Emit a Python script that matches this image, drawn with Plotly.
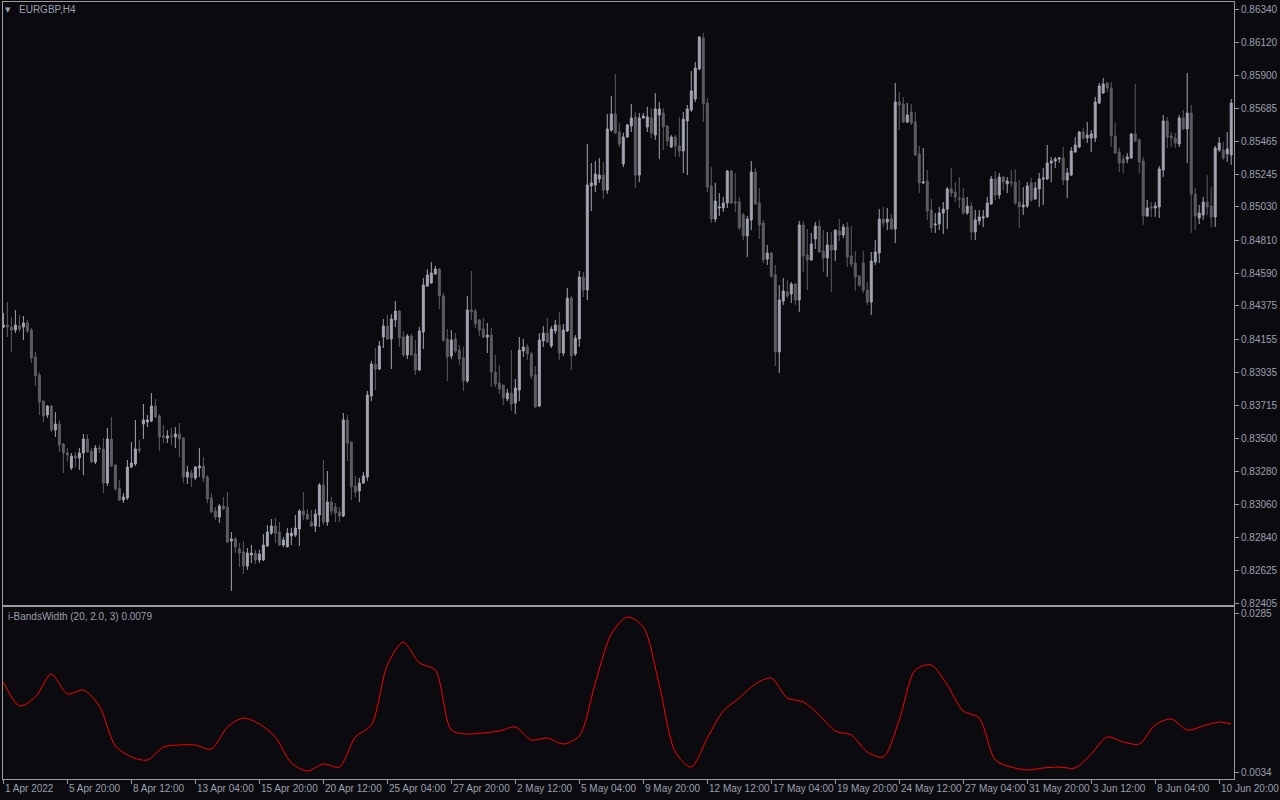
import plotly.graph_objects as go

# EURGBP H4 candles, prices in points (1 point = 0.00001)
open_pts = [
    84235, 84248, 84235, 84215, 84242, 84235, 84262, 84215, 84037, 83918,
    83745, 83653, 83712, 83553, 83593, 83461, 83401, 83302, 83381, 83368,
    83401, 83494, 83414, 83342, 83434, 83428, 83202, 83494, 83322, 83169,
    83090, 83103, 83308, 83328, 83428, 83593, 83606, 83613, 83712, 83646,
    83514, 83500, 83514, 83507, 83527, 83500, 83242, 83269, 83236, 83302,
    83315, 83242, 83103, 83017, 82977, 83050, 83044, 82819, 82832, 82766,
    82746, 82653, 82726, 82739, 82693, 82693, 82786, 82871, 82918, 82878,
    82792, 82779, 82852, 82858, 82898, 83017, 82997, 82944, 82918, 82991,
    83189, 82944, 83077, 83044, 83011, 82984, 83620, 83474, 83183, 83150,
    83202, 83242, 83779, 83990, 83957, 84169, 84242, 84156, 84282, 84341,
    84169, 84050, 84176, 84057, 83951, 84202, 84507, 84527, 84586, 84619,
    84441, 84156, 84043, 84156, 84083, 84030, 83878, 84348, 84341, 84282,
    84222, 84169, 84182, 83937, 83865, 83851, 83759, 83798, 83732, 83818,
    84076, 84103, 84057, 83918, 83712, 84143, 84195, 84110, 84209, 84249,
    84063, 84209, 84427, 84057, 84156, 84566, 84480, 85169, 85175, 85215,
    85241, 85142, 85539, 85645, 85526, 85314, 85493, 85566, 85626, 85241,
    85619, 85559, 85619, 85506, 85639, 85652, 85566, 85427, 85493, 85434,
    85400, 85599, 85672, 85745, 85943, 86148, 85718, 85169, 84950, 85023,
    85023, 85056, 85268, 85063, 85063, 84977, 84838, 84944, 85261, 85056,
    84924, 84685, 84725, 84580, 84070, 84407, 84467, 84454, 84520, 84414,
    84911, 84712, 84679, 84818, 84904, 84738, 84692, 84778, 84745, 84871,
    84844, 84897, 84705, 84659, 84573, 84659, 84480, 84401, 84666, 84725,
    84950, 84930, 84950, 84884, 85725, 85712, 85592, 85659, 85592, 85381,
    85189, 85202, 85010, 84911, 84917, 84990, 85016, 85149, 85129, 85089,
    85089, 84990, 85036, 84864, 84937, 84957, 84964, 85050, 85215, 85109,
    85228, 85182, 85195, 85195, 85063, 85030, 85036, 85189, 85083, 85149,
    85215, 85215, 85321, 85334, 85347, 85354, 85208, 85241, 85394, 85427,
    85526, 85486, 85486, 85486, 85718, 85784, 85851, 85817, 85500, 85394,
    85347, 85347, 85354, 85513, 85473, 85334, 84970, 85030, 85023, 85030,
    85275, 85599, 85500, 85486, 85447, 85619, 85546, 85652, 85116, 84957,
    84977, 85063, 85036, 84964, 85407, 85407, 85381, 85374,
]

high_pts = [
    84328, 84401, 84301, 84348, 84315, 84308, 84282, 84229, 84070, 83937,
    83745, 83719, 83719, 83673, 83620, 83467, 83434, 83401, 83408, 83434,
    83527, 83527, 83434, 83454, 83454, 83500, 83567, 83640, 83322, 83222,
    83136, 83355, 83474, 83620, 83487, 83726, 83653, 83798, 83759, 83659,
    83587, 83553, 83567, 83573, 83600, 83507, 83315, 83289, 83315, 83434,
    83375, 83255, 83136, 83044, 83063, 83110, 83143, 82878, 82845, 82805,
    82819, 82772, 82792, 82759, 82759, 82865, 82924, 82964, 82971, 82944,
    82845, 82905, 82905, 82991, 83030, 83143, 83030, 83024, 83030, 83202,
    83355, 83282, 83110, 83070, 83044, 83666, 83653, 83474, 83249, 83236,
    83275, 83812, 84010, 84096, 84143, 84288, 84315, 84321, 84407, 84348,
    84209, 84189, 84189, 84149, 84235, 84560, 84619, 84666, 84639, 84626,
    84460, 84222, 84215, 84195, 84116, 84103, 84441, 84606, 84354, 84288,
    84295, 84262, 84229, 84050, 83984, 83851, 83825, 84083, 83891, 84169,
    84156, 84123, 84070, 83977, 84195, 84242, 84295, 84242, 84282, 84335,
    84255, 84493, 84441, 84182, 84606, 84599, 85447, 85321, 85334, 85354,
    85328, 85645, 85765, 85910, 85586, 85520, 85579, 85712, 85659, 85652,
    85652, 85692, 85685, 85784, 85725, 85685, 85573, 85506, 85506, 85626,
    85659, 85705, 85930, 85990, 86160, 86182, 85751, 85294, 85189, 85122,
    85096, 85275, 85275, 85255, 85096, 84990, 84970, 85334, 85288, 85155,
    84944, 84778, 84732, 84646, 84513, 84560, 84546, 84533, 84527, 84937,
    84937, 84884, 84858, 84930, 84944, 84877, 84864, 84864, 84880, 84950,
    84917, 84930, 84904, 84738, 84580, 84738, 84533, 84732, 84811, 85016,
    85030, 85023, 84983, 85851, 85791, 85758, 85718, 85712, 85659, 85434,
    85420, 85275, 85083, 84990, 85030, 85063, 85162, 85288, 85195, 85228,
    85155, 85096, 85063, 85010, 85010, 85010, 85096, 85235, 85268, 85255,
    85235, 85228, 85275, 85281, 85208, 85162, 85195, 85222, 85195, 85255,
    85288, 85440, 85361, 85361, 85361, 85427, 85288, 85427, 85493, 85533,
    85553, 85592, 85539, 85758, 85851, 85884, 85855, 85857, 85586, 85420,
    85374, 85387, 85520, 85844, 85486, 85361, 85076, 85063, 85063, 85301,
    85639, 85626, 85526, 85520, 85639, 85672, 85917, 85705, 85155, 85043,
    85096, 85241, 85162, 85434, 85493, 85460, 85526, 85745,
]

low_pts = [
    84229, 84169, 84070, 84195, 84202, 84149, 84195, 83997, 83845, 83653,
    83606, 83633, 83540, 83507, 83408, 83269, 83342, 83289, 83308, 83289,
    83255, 83401, 83335, 83328, 83401, 83136, 83183, 83308, 83150, 83083,
    83070, 83090, 83302, 83315, 83401, 83494, 83573, 83606, 83633, 83414,
    83467, 83467, 83454, 83434, 83375, 83202, 83196, 83176, 83222, 83242,
    83209, 83070, 83004, 82958, 82938, 83024, 82805, 82488, 82739, 82647,
    82600, 82627, 82673, 82666, 82673, 82686, 82779, 82858, 82805, 82786,
    82779, 82779, 82792, 82845, 82786, 82958, 82958, 82911, 82878, 82911,
    82924, 82918, 82991, 82944, 82944, 82977, 83348, 83090, 83110, 83077,
    83196, 83216, 83745, 83818, 83951, 84096, 84150, 83957, 84235, 84103,
    84037, 84023, 84043, 83918, 83944, 84090, 84500, 84520, 84580, 84354,
    84136, 83878, 84023, 84063, 83984, 83812, 83865, 84282, 84229, 84176,
    84162, 84063, 83838, 83838, 83792, 83719, 83745, 83679, 83659, 83745,
    84037, 84017, 83891, 83700, 83705, 84103, 84130, 84096, 84189, 84017,
    84043, 84202, 83951, 84043, 84103, 84434, 84414, 85003, 85129, 85189,
    85083, 85116, 85526, 85513, 85427, 85294, 85486, 85526, 85155, 85195,
    85612, 85526, 85486, 85473, 85347, 85407, 85434, 85420, 85361, 85361,
    85255, 85241, 85659, 85725, 85937, 85593, 85129, 84924, 84930, 84970,
    84997, 85023, 85050, 84997, 84877, 84811, 84699, 84877, 85043, 84818,
    84659, 84646, 84560, 83977, 83931, 84381, 84427, 84394, 84381, 84335,
    84599, 84480, 84675, 84752, 84725, 84599, 84566, 84467, 84672, 84805,
    84824, 84632, 84632, 84474, 84500, 84460, 84381, 84315, 84646, 84659,
    84897, 84877, 84877, 84791, 85539, 85586, 85586, 85573, 85367, 85122,
    85182, 84944, 84858, 84858, 84877, 84851, 84884, 85096, 85063, 85023,
    84977, 84977, 84811, 84811, 84911, 84897, 84957, 85043, 85076, 85083,
    85142, 85122, 85162, 85043, 84891, 84977, 85023, 85063, 85076, 85030,
    85043, 85208, 85195, 85288, 85321, 85175, 85089, 85235, 85387, 85420,
    85473, 85453, 85394, 85460, 85710, 85780, 85791, 85427, 85380, 85261,
    85255, 85321, 85350, 85460, 85255, 84911, 84964, 84964, 84964, 84957,
    85228, 85420, 85427, 85420, 85427, 85539, 85321, 84858, 84877, 84917,
    84944, 84977, 84897, 84897, 85394, 85341, 85328, 85308,
]

close_pts = [
    84248, 84235, 84215, 84248, 84222, 84262, 84209, 84030, 83911, 83739,
    83646, 83712, 83553, 83593, 83454, 83401, 83388, 83381, 83368, 83401,
    83494, 83408, 83342, 83434, 83428, 83202, 83494, 83315, 83163, 83090,
    83110, 83308, 83335, 83428, 83421, 83620, 83620, 83712, 83640, 83507,
    83507, 83514, 83510, 83527, 83494, 83242, 83275, 83236, 83308, 83315,
    83236, 83097, 83011, 82977, 83050, 83030, 82812, 82832, 82779, 82739,
    82653, 82739, 82739, 82693, 82732, 82792, 82878, 82918, 82871, 82792,
    82825, 82871, 82871, 82905, 83017, 82991, 82964, 82918, 82997, 83189,
    82944, 83077, 83017, 83004, 82984, 83620, 83467, 83176, 83143, 83202,
    83249, 83785, 83990, 83957, 84110, 84242, 84156, 84288, 84341, 84162,
    84050, 84176, 84050, 83951, 84209, 84513, 84580, 84593, 84619, 84441,
    84149, 84037, 84149, 84076, 84023, 83878, 84348, 84335, 84255, 84215,
    84169, 84182, 83937, 83858, 83825, 83765, 83798, 83726, 83831, 84083,
    84103, 84057, 83911, 83706, 84149, 84195, 84136, 84222, 84249, 84063,
    84215, 84427, 84043, 84162, 84566, 84480, 85175, 85189, 85248, 85241,
    85142, 85546, 85645, 85520, 85447, 85493, 85573, 85619, 85241, 85619,
    85632, 85626, 85520, 85678, 85678, 85559, 85467, 85493, 85434, 85400,
    85612, 85678, 85798, 85950, 86155, 85712, 85162, 84950, 85069, 85030,
    85056, 85268, 85056, 85056, 84891, 84838, 84950, 85261, 85050, 84911,
    84679, 84725, 84573, 84070, 84414, 84474, 84441, 84520, 84414, 84911,
    84705, 84679, 84785, 84904, 84732, 84692, 84778, 84745, 84877, 84844,
    84897, 84699, 84652, 84566, 84513, 84480, 84401, 84672, 84732, 84950,
    84924, 84950, 84884, 85725, 85705, 85592, 85639, 85586, 85374, 85189,
    85195, 85003, 84891, 84917, 84990, 85016, 85149, 85122, 85096, 85083,
    84990, 85036, 84864, 84944, 84964, 84964, 85056, 85215, 85109, 85228,
    85195, 85202, 85189, 85056, 85030, 85043, 85169, 85076, 85155, 85215,
    85222, 85321, 85334, 85347, 85354, 85208, 85255, 85400, 85440, 85526,
    85486, 85506, 85513, 85725, 85831, 85844, 85817, 85500, 85387, 85321,
    85321, 85361, 85513, 85467, 85328, 84970, 85023, 85023, 85036, 85281,
    85599, 85493, 85486, 85453, 85619, 85546, 85652, 85116, 84970, 84990,
    85063, 85030, 84964, 85420, 85453, 85354, 85414, 85718,
]

# Bollinger band width indicator, read every 4th bar (plus the last bar)
bandwidth = [
    0.01770, 0.01388, 0.01531, 0.01897, 0.01579, 0.01643, 0.01388, 0.00753, 0.00578, 0.00531,
    0.00737, 0.00769, 0.00769, 0.00705, 0.01055, 0.01198, 0.01103, 0.00896, 0.00483, 0.00356,
    0.00467, 0.00419, 0.00896, 0.01087, 0.02040, 0.02405, 0.02072, 0.01960, 0.01007, 0.00944,
    0.00960, 0.00991, 0.01055, 0.00848, 0.00880, 0.00785, 0.00912, 0.01754, 0.02532, 0.02802,
    0.02644, 0.01722, 0.00658, 0.00419, 0.00880, 0.01309, 0.01516, 0.01738, 0.01833, 0.01516,
    0.01452, 0.01246, 0.00991, 0.00928, 0.00658, 0.00578, 0.01166, 0.01960, 0.02040, 0.01722,
    0.01309, 0.01198, 0.00531, 0.00419, 0.00372, 0.00404, 0.00419, 0.00404, 0.00626, 0.00896,
    0.00817, 0.00785, 0.01087, 0.01182, 0.01007, 0.01071, 0.01134, 0.01103,
]

time_labels = ["1 Apr 2022", "5 Apr 20:00", "8 Apr 12:00", "13 Apr 04:00", "15 Apr 20:00",
               "20 Apr 12:00", "25 Apr 04:00", "27 Apr 20:00", "2 May 12:00", "5 May 04:00",
               "9 May 20:00", "12 May 12:00", "17 May 04:00", "19 May 20:00", "24 May 12:00",
               "27 May 04:00", "31 May 20:00", "3 Jun 12:00", "8 Jun 04:00", "10 Jun 20:00"]
label_every = 16  # bars between time labels

price_ticks = [0.86340, 0.86120, 0.85900, 0.85685, 0.85465, 0.85245, 0.85030, 0.84810,
               0.84590, 0.84375, 0.84155, 0.83935, 0.83715, 0.83500, 0.83280, 0.83060,
               0.82840, 0.82625, 0.82405]
bw_ticks = [0.0285, 0.0034]

n = len(close_pts)
assert len(open_pts) == n and len(high_pts) == n and len(low_pts) == n, (len(open_pts), len(high_pts), len(low_pts), n)

o = [v / 1e5 for v in open_pts]
h = [v / 1e5 for v in high_pts]
l = [v / 1e5 for v in low_pts]
c = [v / 1e5 for v in close_pts]
bars = list(range(n))
bw_bars = list(range(0, n - 3, 4)) + [n - 1]
assert len(bw_bars) == len(bandwidth), (len(bw_bars), len(bandwidth))
label_bars = [i * label_every for i in range(len(time_labels))]

BG = "#0a0a0f"
FRAME = "#9b9b9b"
TXT = "#9aa0ae"
BULL = "#a3a4b2"
BEAR = "#5d5d62"
FONT = "Liberation Sans, Arial, sans-serif"

W, H = 1280, 800
x0p, x1p = 3, 1234
main_top, main_bot = 2, 605
ind_top, ind_bot = 607, 779

def ypaper(px):
    return (H - px) / H

fig = go.Figure()
fig.add_trace(go.Candlestick(
    x=bars, open=o, high=h, low=l, close=c,
    xaxis="x", yaxis="y",
    increasing=dict(line=dict(color=BULL, width=1), fillcolor=BULL),
    decreasing=dict(line=dict(color=BEAR, width=1), fillcolor=BEAR),
    whiskerwidth=0, showlegend=False, hoverinfo="skip",
))
fig.add_trace(go.Scatter(
    x=bw_bars, y=bandwidth, xaxis="x2", yaxis="y2", mode="lines",
    line=dict(color="#ff0000", width=1, shape="spline", smoothing=0.8),
    showlegend=False, hoverinfo="skip",
))

xr = [-0.1, 307.7]
# price range matching panel pixels
p_top, p_bot = 0.863868, 0.823949
b_top, b_bot = 0.02961, 0.00229

axis_common = dict(showgrid=False, zeroline=False, showline=True, linecolor=FRAME,
                   linewidth=1, mirror=True, automargin=False)

fig.update_layout(
    width=W, height=H, margin=dict(l=0, r=0, t=0, b=0, autoexpand=False),
    paper_bgcolor=BG, plot_bgcolor=BG, showlegend=False,
    font=dict(family=FONT, size=10, color=TXT),
    xaxis=dict(domain=[x0p / W, x1p / W], range=xr, showticklabels=False, ticks="",
               rangeslider=dict(visible=False), anchor="y", **axis_common),
    yaxis=dict(domain=[ypaper(main_bot), ypaper(main_top)], range=[p_bot, p_top], side="right",
               tickvals=price_ticks, ticktext=[f"{v:.5f}" for v in price_ticks],
               ticks="outside", ticklen=4, tickcolor=FRAME, anchor="x",
               tickfont=dict(family=FONT, size=10, color=TXT), **axis_common),
    xaxis2=dict(domain=[x0p / W, x1p / W], range=xr, anchor="y2", tickvals=label_bars,
                ticks="outside", ticklen=4, tickcolor=FRAME, showticklabels=False,
                **axis_common),
    yaxis2=dict(domain=[ypaper(ind_bot), ypaper(ind_top)], range=[b_bot, b_top], side="right",
                tickvals=bw_ticks, ticktext=[f"{v:.4f}" for v in bw_ticks],
                ticks="outside", ticklen=4, tickcolor=FRAME, anchor="x2",
                tickfont=dict(family=FONT, size=10, color=TXT), **axis_common),
)

ann = []
ann.append(dict(text="▼", x=8 / W, y=ypaper(10), xref="paper", yref="paper", xanchor="center",
                yanchor="middle", showarrow=False, font=dict(family="DejaVu Sans", size=7, color=TXT)))
ann.append(dict(text="EURGBP,H4", x=17 / W, y=ypaper(10), xref="paper", yref="paper",
                xanchor="left", yanchor="middle", showarrow=False,
                font=dict(family=FONT, size=10, color=TXT)))
ann.append(dict(text="i-BandsWidth (20, 2.0, 3) 0.0079", x=6 / W, y=ypaper(616), xref="paper",
                yref="paper", xanchor="left", yanchor="middle", showarrow=False,
                font=dict(family=FONT, size=10, color=TXT)))
for b, t in zip(label_bars, time_labels):
    ann.append(dict(text=t, x=b, xref="x2", y=ypaper(788), yref="paper", xanchor="left",
                    yanchor="middle", xshift=0, showarrow=False,
                    font=dict(family=FONT, size=10, color=TXT)))
fig.update_layout(annotations=ann)

fig.write_html("out.html", config={"displayModeBar": False},
               post_script="document.body.style.margin='0px';document.body.style.overflow='hidden';")
